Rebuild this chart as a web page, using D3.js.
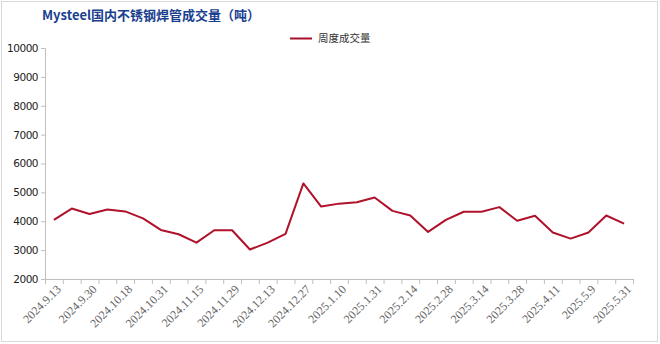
<!DOCTYPE html>
<html><head><meta charset="utf-8">
<script src="https://cdn.jsdelivr.net/npm/d3@7"></script>
<style>body{margin:0;background:#fff}svg{display:block}</style>
</head><body>
<script>
const categories = ["2024.9.13","2024.9.20","2024.9.30","2024.10.11","2024.10.18","2024.10.25","2024.10.31","2024.11.8","2024.11.15","2024.11.22","2024.11.29","2024.12.6","2024.12.13","2024.12.20","2024.12.27","2025.1.3","2025.1.10","2025.1.17","2025.1.31","2025.2.7","2025.2.14","2025.2.21","2025.2.28","2025.3.7","2025.3.14","2025.3.21","2025.3.28","2025.4.3","2025.4.11","2025.4.25","2025.5.9","2025.5.16","2025.5.31"];
const weeklyVolume = [4050,4440,4250,4410,4340,4100,3700,3550,3260,3690,3690,3020,3260,3560,5310,4510,4610,4660,4820,4360,4200,3630,4050,4330,4330,4490,4020,4190,3610,3400,3610,4200,3920];
const yTicks = [2000,3000,4000,5000,6000,7000,8000,9000,10000];
const shownLabels = categories.filter((d,i)=>i%2===0);
const title = "Mysteel国内不锈钢焊管成交量（吨）";
const seriesName = "周度成交量";

const W=660,H=344;
const svg=d3.select("body").append("svg").attr("width",W).attr("height",H);
svg.append("rect").attr("x",1.5).attr("y",1.5).attr("width",W-4).attr("height",H-4)
  .attr("fill","#fff").attr("stroke","#d9d9d9");

const L=45,R=633,T=48,B=279;
const x=d3.scaleBand().domain(categories).range([L,R]);
const y=d3.scaleLinear().domain([2000,10000]).range([B,T]);

svg.append("text").attr("x",42).attr("y",20).text(title)
  .attr("font-family","'Noto Sans CJK SC',sans-serif").attr("font-weight","bold")
  .attr("font-size",13).attr("fill","#1a3f8f");

// legend
svg.append("line").attr("x1",290).attr("x2",312).attr("y1",38.5).attr("y2",38.5)
  .attr("stroke","#a8102a").attr("stroke-width",2);
svg.append("text").attr("x",318).attr("y",42).text(seriesName)
  .attr("font-family","'Noto Sans CJK SC',sans-serif").attr("font-size",10.5).attr("fill","#333");

// y axis
const ya=svg.append("g").attr("transform",`translate(${L},0)`)
  .call(d3.axisLeft(y).tickValues(yTicks).tickSize(4).tickPadding(3).tickFormat(d3.format("d")));
ya.select(".domain").attr("stroke","#bfbfbf");
ya.selectAll(".tick line").attr("stroke","#bfbfbf");
ya.selectAll("text").attr("font-family","'DejaVu Sans',sans-serif").attr("font-size",10.5).attr("fill","#222").attr("letter-spacing","-0.5");

// x axis
const xa=svg.append("g").attr("transform",`translate(0,${B})`)
  .call(d3.axisBottom(x).tickSize(0).tickFormat(d=>shownLabels.includes(d)?d:""));
xa.select(".domain").attr("stroke","#bfbfbf");
xa.selectAll(".tick line").remove();
const bounds=categories.map(c=>x(c)).concat([R]);
xa.selectAll("line.bt").data(bounds).enter().append("line").attr("class","bt")
  .attr("x1",d=>d+0.5).attr("x2",d=>d+0.5).attr("y1",0).attr("y2",5).attr("stroke","#bfbfbf");
xa.selectAll(".tick text")
  .attr("font-family","'Liberation Serif',serif").attr("font-size",12).attr("fill","#666")
  .attr("text-anchor","end").attr("dy",0).attr("y",0)
  .attr("transform",`translate(${x.bandwidth()/2-1},11) rotate(-45)`);

// line
const line=d3.line().x((d,i)=>x(categories[i])+x.bandwidth()/2).y(d=>y(d));
svg.append("path").datum(weeklyVolume).attr("d",line).attr("fill","none")
  .attr("stroke","#b0122b").attr("stroke-width",2).attr("stroke-linejoin","round");
</script>
</body></html>
